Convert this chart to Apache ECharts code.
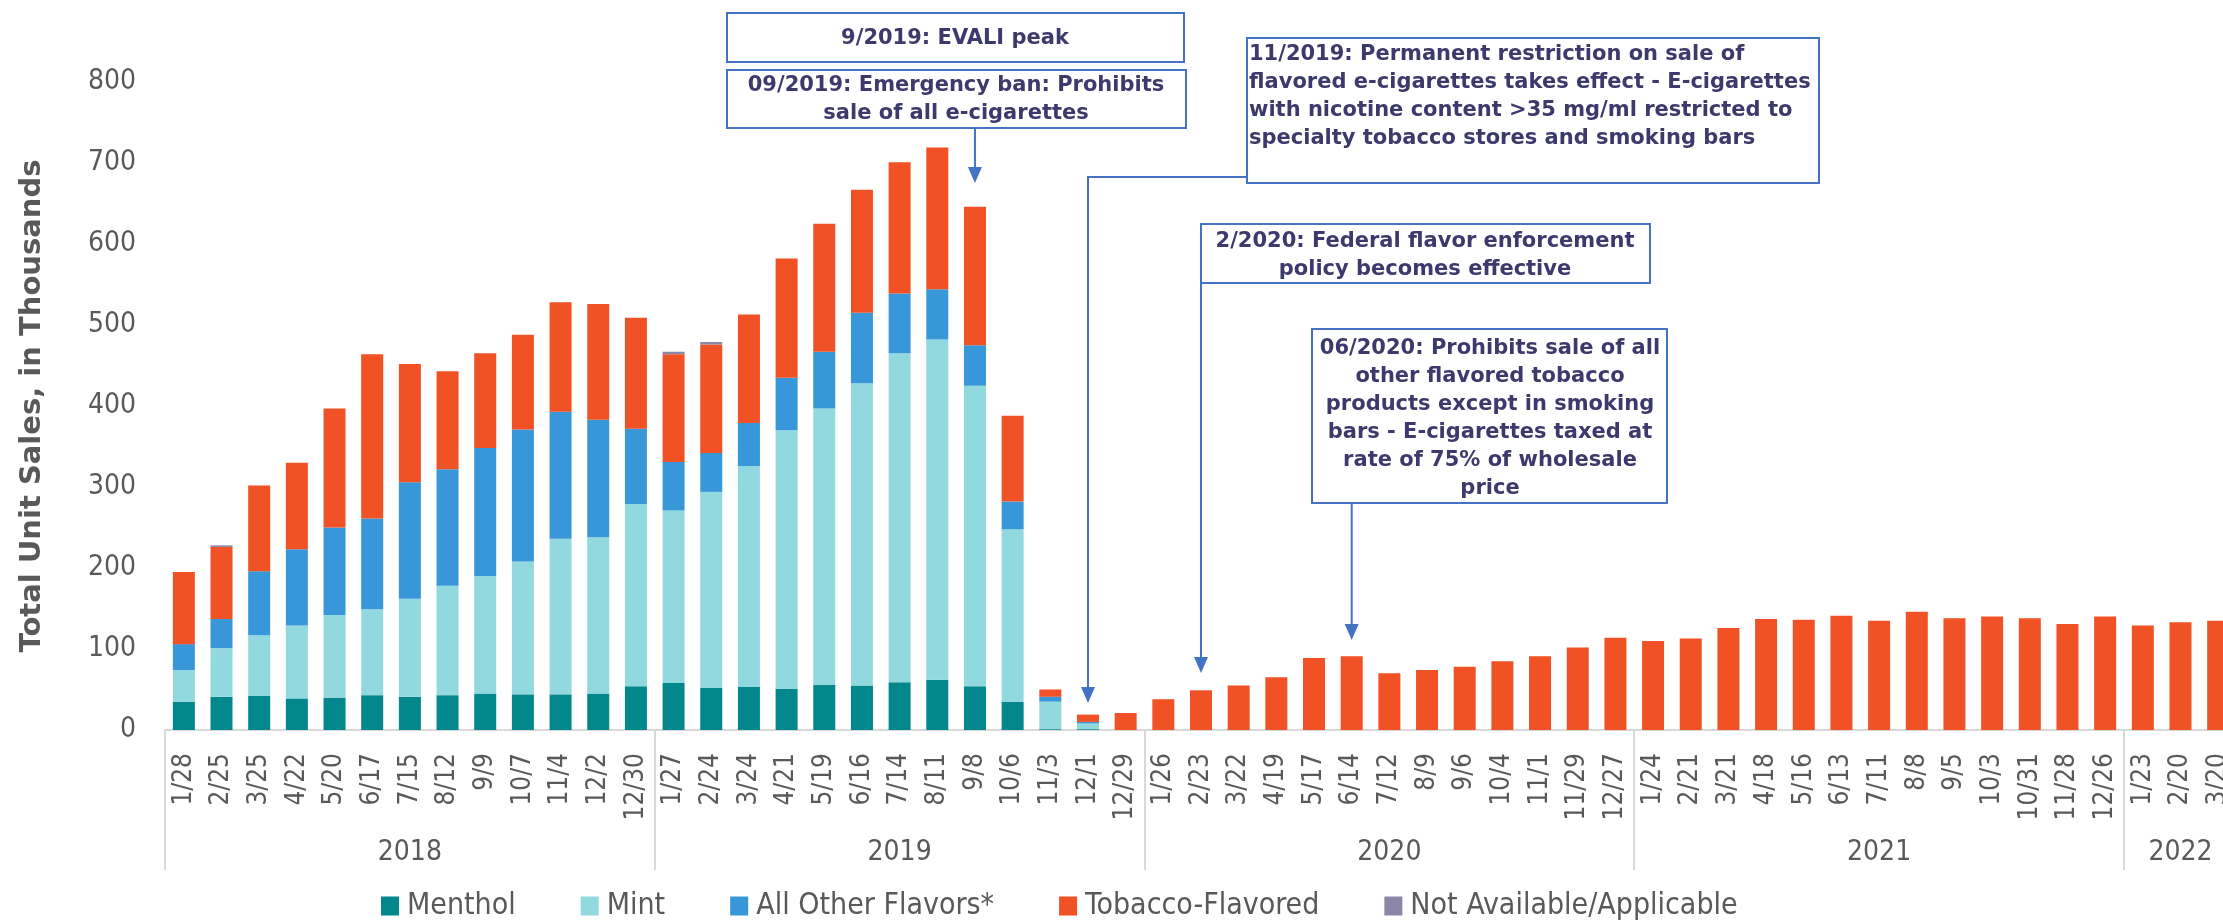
<!DOCTYPE html>
<html>
<head>
<meta charset="utf-8">
<title>E-cigarette unit sales by flavor</title>
<script src="https://cdn.jsdelivr.net/npm/echarts@6/dist/echarts.min.js"></script>
<style>
  html, body { margin: 0; padding: 0; background: #fff; overflow: hidden; }
  #container { width: 2260px; height: 920px; }
</style>
</head>
<body>
<div id="container"></div>
<script>
// four-week periods, grouped by year
var categories = [
    '1/28','2/25','3/25','4/22','5/20','6/17','7/15','8/12','9/9','10/7','11/4','12/2','12/30',
    '1/27','2/24','3/24','4/21','5/19','6/16','7/14','8/11','9/8','10/6','11/3','12/1','12/29',
    '1/26','2/23','3/22','4/19','5/17','6/14','7/12','8/9','9/6','10/4','11/1','11/29','12/27',
    '1/24','2/21','3/21','4/18','5/16','6/13','7/11','8/8','9/5','10/3','10/31','11/28','12/26',
    '1/23','2/20','3/20'
];
var years = ['2018', '2019', '2020', '2021', '2022'];
var yearSizes = [13, 13, 13, 13, 3];

// unit sales, thousands
var menthol = [35,41,42,39,40,43,41,43,45,44,44,45,54,
    58,52,53,51,56,55,59,62,54,35,1,1,0,
    0,0,0,0,0,0,0,0,0,0,0,0,0,
    0,0,0,0,0,0,0,0,0,0,0,0,0,
    0,0,0];
var mint = [39,60,75,90,102,106,121,135,145,164,192,193,225,
    213,242,273,319,341,373,406,420,371,213,34,7,0,
    0,0,0,0,0,0,0,0,0,0,0,0,0,
    0,0,0,0,0,0,0,0,0,0,0,0,0,
    0,0,0];
var otherFlavors = [32,36,79,94,108,112,144,144,158,163,157,145,93,
    60,48,53,65,70,87,74,62,50,34,6,2,0,
    0,0,0,0,0,0,0,0,0,0,0,0,0,
    0,0,0,0,0,0,0,0,0,0,0,0,0,
    0,0,0];
var tobacco = [89,89,106,107,147,203,146,121,117,117,135,143,137,
    133,134,134,147,158,152,162,175,171,106,9,9,21,
    38,49,55,65,89,91,70,74,78,85,91,102,114,
    110,113,126,137,136,141,135,146,138,140,138,131,140,
    129,133,135];
var notAvailable = [0,2,0,0,0,0,0,0,0,0,0,0,0,
    3,3,0,0,0,0,0,0,0,0,0,0,0,
    0,0,0,0,0,0,0,0,0,0,0,0,0,
    0,0,0,0,0,0,0,0,0,0,0,0,0,
    0,0,0];

var seriesNames = ['Menthol', 'Mint', 'All Other Flavors*', 'Tobacco-Flavored', 'Not Available/Applicable'];
var colors = ['#01878c', '#92d9df', '#3897d9', '#f05125', '#8b87a8'];

var tickFont = "'DejaVu Sans Condensed', 'Liberation Sans', sans-serif";
var boldFont = "'DejaVu Sans', Verdana, sans-serif";
var noteColor = '#3c3a6c';
var boxColor = '#4472c4';

// year boundaries and centre index of every year group
var yearStarts = [], yearCenters = {}, pos = 0;
for (var i = 0; i < years.length; i++) {
    yearStarts.push(pos);
    yearCenters[pos + Math.floor(yearSizes[i] / 2)] = years[i];
    pos += yearSizes[i];
}

var dom = document.getElementById('container');
var myChart = echarts.init(dom);

function bar(name, data) {
    return {
        name: name,
        type: 'bar',
        stack: 'total',
        barWidth: 22,
        xAxisIndex: 0,
        data: data
    };
}

var option = {
    animation: false,
    color: colors,
    legend: {
        left: 381,
        top: 891,
        padding: 0,
        itemWidth: 18,
        itemHeight: 19,
        itemGap: 65,
        icon: 'rect',
        textStyle: { fontFamily: tickFont, fontSize: 30, color: '#595959', padding: [0, 0, 0, 3] },
        data: seriesNames
    },
    grid: { left: 165, right: 23, top: 82, bottom: 190 },
    xAxis: [{
        type: 'category',
        data: categories,
        axisLine: { lineStyle: { color: '#d9d9d9', width: 2 } },
        axisTick: { show: false },
        axisLabel: {
            interval: 0,
            rotate: 90,
            margin: 23,
            fontFamily: tickFont,
            fontSize: 26,
            color: '#595959'
        }
    }, {
        type: 'category',
        data: categories,
        position: 'bottom',
        axisLine: { show: false },
        axisTick: {
            show: true,
            length: 140,
            interval: function (index) { return yearStarts.indexOf(index) >= 0; },
            lineStyle: { color: '#d9d9d9', width: 2 }
        },
        axisLabel: {
            interval: function (index) { return yearCenters[index] !== undefined; },
            formatter: function (value, index) { return yearCenters[index] || ''; },
            margin: 109,
            fontFamily: tickFont,
            fontSize: 28,
            color: '#595959'
        }
    }],
    yAxis: {
        type: 'value',
        min: 0,
        max: 800,
        interval: 100,
        name: 'Total Unit Sales, in Thousands',
        nameLocation: 'middle',
        nameRotate: 90,
        nameGap: 118,
        nameTextStyle: { fontFamily: boldFont, fontWeight: 'bold', fontSize: 29, color: '#595959' },
        axisLine: { show: false },
        axisTick: { show: false },
        splitLine: { show: false },
        axisLabel: { margin: 29, fontFamily: tickFont, fontSize: 28, color: '#595959' }
    },
    series: [
        bar(seriesNames[0], menthol),
        bar(seriesNames[1], mint),
        bar(seriesNames[2], otherFlavors),
        bar(seriesNames[3], tobacco),
        bar(seriesNames[4], notAvailable)
    ]
};
myChart.setOption(option, true);

// annotation boxes and arrows, arrows aimed at category centres
function xOf(cat) {
    return myChart.convertToPixel({ xAxisIndex: 0 }, categories.indexOf(cat));
}
function box(x1, y1, x2, y2) {
    return { type: 'rect', z: 100, shape: { x: x1, y: y1, width: x2 - x1, height: y2 - y1 },
        style: { fill: '#fff', stroke: boxColor, lineWidth: 2 } };
}
function note(text, x, y, align) {
    return { type: 'text', z: 101, style: { text: text, x: x, y: y, fill: noteColor,
        font: 'bold 21px ' + boldFont, textAlign: align || 'center', textVerticalAlign: 'middle', lineHeight: 28 } };
}
function arrow(points) {
    var tip = points[points.length - 1];
    var line = points.slice(0, -1).concat([[tip[0], tip[1] - 12]]);
    return [
        { type: 'polyline', z: 100, shape: { points: line }, style: { stroke: boxColor, lineWidth: 2, fill: null } },
        { type: 'polygon', z: 100, shape: { points: [[tip[0], tip[1]], [tip[0] - 7, tip[1] - 16], [tip[0] + 7, tip[1] - 16]] },
            style: { fill: boxColor } }
    ];
}

var xEvali = xOf('9/8'), xPerm = xOf('12/1'), xFed = xOf('2/23'), xJune = xOf('6/14');
var graphics = [
    box(727, 13, 1184, 62),
    note('9/2019: EVALI peak', 955, 39),
    box(727, 70, 1186, 128),
    note('09/2019: Emergency ban: Prohibits\nsale of all e-cigarettes', 956, 100),
    box(1247, 38, 1819, 183),
    note('11/2019: Permanent restriction on sale of\nflavored e-cigarettes takes effect - E-cigarettes\nwith nicotine content >35 mg/ml restricted to\nspecialty tobacco stores and smoking bars', 1249, 97, 'left'),
    box(1201, 224, 1650, 283),
    note('2/2020: Federal flavor enforcement\npolicy becomes effective', 1425, 256),
    box(1312, 329, 1667, 503),
    note('06/2020: Prohibits sale of all\nother flavored tobacco\nproducts except in smoking\nbars - E-cigarettes taxed at\nrate of 75% of wholesale\nprice', 1490, 419)
];
graphics = graphics
    .concat(arrow([[xEvali, 128], [xEvali, 183]]))
    .concat(arrow([[1247, 177], [xPerm, 177], [xPerm, 703]]))
    .concat(arrow([[xFed, 283], [xFed, 673]]))
    .concat(arrow([[xJune, 503], [xJune, 640]]));

myChart.setOption({ graphic: graphics });
</script>
</body>
</html>
